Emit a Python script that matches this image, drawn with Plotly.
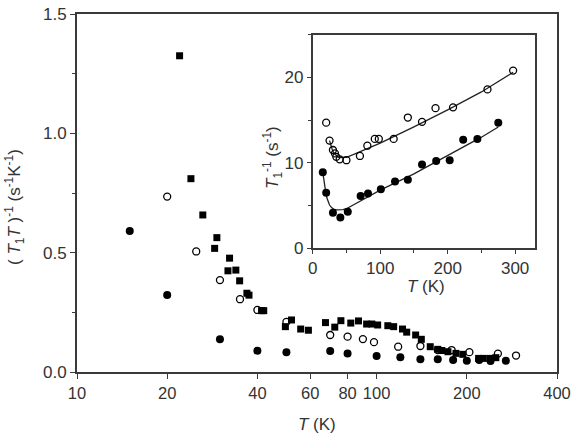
import math
import plotly.graph_objects as go

# ---------- main panel data: (T1 T)^-1 vs T ----------
sq_T = [22, 24, 26.3, 28.8, 29.3, 31.9, 32.3, 33.9, 34.9, 36.9, 37.5, 41.3, 42,
        49.6, 52, 55.8, 59.2, 67.5, 72.5, 76, 82, 87, 92.6, 96.4, 100.8, 109, 114,
        122, 126, 135, 141, 151, 160, 165, 173, 184, 194, 219, 227, 239, 250]
sq_y = [1.325, 0.81, 0.658, 0.518, 0.563, 0.424, 0.477, 0.427, 0.382, 0.33, 0.322,
        0.257, 0.257, 0.19, 0.218, 0.18, 0.175, 0.207, 0.188, 0.215, 0.205, 0.214,
        0.201, 0.201, 0.197, 0.194, 0.19, 0.18, 0.167, 0.155, 0.137, 0.106, 0.095,
        0.09, 0.085, 0.078, 0.074, 0.057, 0.057, 0.057, 0.06]

oc_T = [20, 25, 30, 35, 40, 50, 70, 80, 90, 98, 118, 140, 160, 178, 204, 254, 292]
oc_y = [0.735, 0.505, 0.385, 0.305, 0.26, 0.21, 0.155, 0.148, 0.138, 0.125, 0.106,
        0.109, 0.092, 0.092, 0.083, 0.077, 0.069]

fc_T = [15, 20, 30, 40, 50, 70, 80, 100, 120, 140, 160, 180, 200, 220, 240, 270]
fc_y = [0.591, 0.323, 0.137, 0.089, 0.083, 0.088, 0.078, 0.067, 0.062, 0.053,
        0.053, 0.05, 0.047, 0.05, 0.046, 0.047]

main_xticks = [10, 20, 40, 60, 80, 100, 200, 400]
main_xticktext = ["10", "20", "40", "60", "80", "100", "200", "400"]
main_yticks = [0, 0.5, 1.0, 1.5]
main_yticktext = ["0.0", "0.5", "1.0", "1.5"]

# ---------- inset data: T1^-1 vs T ----------
in_oc_T = [20, 25, 30, 33, 35, 40, 50, 70, 81, 92, 98, 120, 141, 162, 182, 208, 259, 297]
in_oc_y = [14.7, 12.6, 11.5, 11.1, 10.7, 10.4, 10.3, 10.8, 12.0, 12.8, 12.8, 12.8,
           15.3, 14.8, 16.4, 16.5, 18.6, 20.8]

in_fc_T = [15, 20, 30, 41, 52, 71, 82, 101, 122, 141, 162, 183, 203, 223, 244, 275]
in_fc_y = [8.9, 6.5, 4.15, 3.6, 4.25, 6.1, 6.4, 6.9, 7.8, 8.0, 9.8, 10.2, 10.3,
           12.7, 12.8, 14.7]

fit_oc_T = [25, 27, 29, 31, 34, 37, 40, 45, 50, 60, 80, 100, 150, 200, 250, 297]
fit_oc_y = [12.6, 12.0, 11.55, 11.2, 10.9, 10.7, 10.62, 10.6, 10.65, 10.95, 11.6, 12.3,
            14.2, 16.2, 18.3, 20.6]

fit_fc_T = [15, 16.5, 18, 19.5, 21, 23, 25, 28, 31, 35, 40, 45, 50, 60, 80, 100,
            150, 200, 250, 275]
fit_fc_y = [8.9, 7.9, 7.1, 6.45, 5.9, 5.4, 5.05, 4.75, 4.58, 4.48, 4.45, 4.5, 4.62,
            5.05, 5.9, 6.8, 8.7, 10.8, 13.0, 14.2]

AX = "#3a3a3a"
FONT = dict(family="Liberation Sans, Arial, sans-serif", size=17, color="#333333")
XFONT = dict(family="Liberation Sans, Arial, sans-serif", size=16.5, color="#333333")

fig = go.Figure()

# main traces
fig.add_trace(go.Scatter(x=sq_T, y=sq_y, mode="markers",
                         marker=dict(symbol="square", size=7, color="black"),
                         xaxis="x", yaxis="y", showlegend=False))
fig.add_trace(go.Scatter(x=oc_T, y=oc_y, mode="markers",
                         marker=dict(symbol="circle-open", size=7, color="black",
                                     line=dict(width=1.3)),
                         xaxis="x", yaxis="y", showlegend=False))
fig.add_trace(go.Scatter(x=fc_T, y=fc_y, mode="markers",
                         marker=dict(symbol="circle", size=8, color="black"),
                         xaxis="x", yaxis="y", showlegend=False))

# inset traces
fig.add_trace(go.Scatter(x=fit_oc_T, y=fit_oc_y, mode="lines",
                         line=dict(color="#222222", width=1.3),
                         xaxis="x2", yaxis="y2", showlegend=False))
fig.add_trace(go.Scatter(x=fit_fc_T, y=fit_fc_y, mode="lines",
                         line=dict(color="#222222", width=1.3),
                         xaxis="x2", yaxis="y2", showlegend=False))
fig.add_trace(go.Scatter(x=in_oc_T, y=in_oc_y, mode="markers",
                         marker=dict(symbol="circle-open", size=7, color="black",
                                     line=dict(width=1.3)),
                         xaxis="x2", yaxis="y2", showlegend=False))
fig.add_trace(go.Scatter(x=in_fc_T, y=in_fc_y, mode="markers",
                         marker=dict(symbol="circle", size=8, color="black"),
                         xaxis="x2", yaxis="y2", showlegend=False))

xr = [1, math.log10(400)]

fig.update_layout(
    width=571, height=435,
    margin=dict(l=77, r=14, t=14, b=63, autoexpand=False),
    paper_bgcolor="white", plot_bgcolor="white",
    font=FONT,
    xaxis=dict(type="log", range=xr, tickvals=main_xticks, ticktext=main_xticktext,
               ticks="outside", ticklen=5, tickwidth=1.3, tickcolor=AX,
               showline=True, linecolor=AX, linewidth=1.8, mirror=True,
               showgrid=False, zeroline=False, domain=[0, 1], tickfont=XFONT,
               automargin=False),
    yaxis=dict(range=[0, 1.5], tickvals=main_yticks, ticktext=main_yticktext,
               ticks="outside", ticklen=5, tickwidth=1.3, tickcolor=AX,
               minor=dict(tickvals=[0.25, 0.75, 1.25], ticks="outside", ticklen=3, tickcolor=AX),
               showline=True, linecolor=AX, linewidth=1.8, mirror=True,
               showgrid=False, zeroline=False, domain=[0, 1], tickfont=FONT,
               automargin=False),
    xaxis3=dict(type="log", range=xr, tickvals=main_xticks, overlaying="x", side="top",
                ticks="inside", ticklen=5, tickwidth=1.3, tickcolor=AX,
                showticklabels=False, showline=False, showgrid=False, zeroline=False),
    yaxis3=dict(range=[0, 1.5], tickvals=[0.25, 0.5, 0.75, 1.0, 1.25], overlaying="y", side="right",
                ticks="inside", ticklen=5, tickwidth=1.3, tickcolor=AX,
                showticklabels=False, showline=False, showgrid=False, zeroline=False),
    xaxis2=dict(range=[0, 330], tickvals=[0, 100, 200, 300], anchor="y2",
                domain=[0.491, 0.955],
                ticks="outside", ticklen=4, tickwidth=1.3, tickcolor=AX,
                minor=dict(tickvals=[50, 150, 250], ticks="outside", ticklen=3, tickcolor=AX),
                showline=True, linecolor=AX, linewidth=1.6, mirror=True,
                showgrid=False, zeroline=False, tickfont=FONT),
    yaxis2=dict(range=[0, 25], tickvals=[0, 10, 20], anchor="x2",
                domain=[0.346, 0.942],
                ticks="outside", ticklen=4, tickwidth=1.3, tickcolor=AX,
                minor=dict(tickvals=[5, 15, 25], ticks="outside", ticklen=3, tickcolor=AX),
                showline=True, linecolor=AX, linewidth=1.6, mirror=True,
                showgrid=False, zeroline=False, tickfont=FONT),
    annotations=[
        dict(text="<i>T</i> (K)", xref="paper", yref="paper",
             x=(317 - 77) / 480, y=-(424 - 372) / 358, xanchor="center", yanchor="middle",
             showarrow=False, font=FONT),
        dict(text="( <i>T</i><sub>1</sub><i>T</i> )<sup>-1</sup> (s<sup>-1</sup>K<sup>-1</sup>)",
             xref="paper", yref="paper", textangle=-90,
             x=(14 - 77) / 480, y=(372 - 207) / 358, xanchor="center", yanchor="middle",
             showarrow=False, font=FONT),
        dict(text="<i>T</i> (K)", xref="paper", yref="paper",
             x=(426 - 77) / 480, y=(372 - 286) / 358, xanchor="center", yanchor="middle",
             showarrow=False, font=FONT),
        dict(text="<i>T</i><sub>1</sub><sup>-1</sup> (s<sup>-1</sup>)",
             xref="paper", yref="paper", textangle=-90,
             x=(272 - 77) / 480, y=(372 - 158) / 358, xanchor="center", yanchor="middle",
             showarrow=False, font=FONT),
    ],
)

fig.write_html("out.html")
